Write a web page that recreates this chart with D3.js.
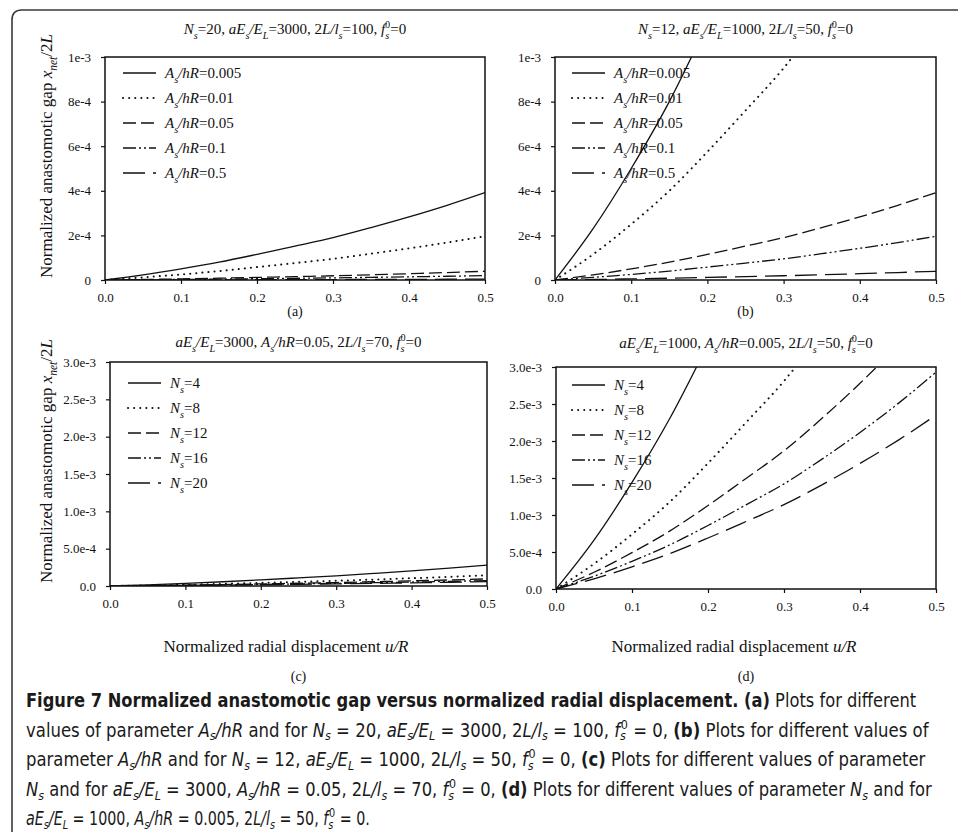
<!DOCTYPE html>
<html>
<head>
<meta charset="utf-8">
<script src="https://cdn.jsdelivr.net/npm/d3@7"></script>
<style>
  body { margin: 0; background: #fff; }
</style>
</head>
<body>
<svg id="fig" width="958" height="832"></svg>
<script>
// u/R values shared by every curve
let uR = [0, 0.05, 0.1, 0.15, 0.2, 0.25, 0.3, 0.35, 0.4, 0.45, 0.5];

// all gap values in units of 1e-3
// (a) Ns=20, aEs/EL=3000, 2L/ls=100
let a_As0005 = [0, 0.023, 0.050, 0.080, 0.115, 0.152, 0.190, 0.235, 0.283, 0.335, 0.392];
let a_As001  = [0, 0.012, 0.025, 0.040, 0.058, 0.076, 0.095, 0.118, 0.142, 0.168, 0.196];
let a_As005  = [0, 0.0023, 0.005, 0.008, 0.0115, 0.0152, 0.019, 0.0235, 0.0283, 0.0335, 0.0392];
let a_As01   = [0, 0.0012, 0.0025, 0.004, 0.0058, 0.0076, 0.0095, 0.0118, 0.0142, 0.0168, 0.0196];
let a_As05   = [0, 0.0002, 0.0005, 0.0008, 0.0012, 0.0015, 0.0019, 0.0024, 0.0028, 0.0034, 0.0039];

// (b) Ns=12, aEs/EL=1000, 2L/ls=50
let b_As0005 = [0, 0.23, 0.50, 0.80, 1.15, 1.52, 1.90, 2.35, 2.83, 3.35, 3.92];
let b_As001  = [0, 0.115, 0.25, 0.40, 0.575, 0.76, 0.95, 1.175, 1.415, 1.675, 1.96];
let b_As005  = [0, 0.023, 0.050, 0.080, 0.115, 0.152, 0.190, 0.235, 0.283, 0.335, 0.392];
let b_As01   = [0, 0.012, 0.025, 0.040, 0.058, 0.076, 0.095, 0.118, 0.142, 0.168, 0.196];
let b_As05   = [0, 0.0023, 0.005, 0.008, 0.0115, 0.0152, 0.019, 0.0235, 0.0283, 0.0335, 0.0392];

// (c) aEs/EL=3000, As/hR=0.05, 2L/ls=70
let c_N4  = [0, 0.016, 0.036, 0.057, 0.082, 0.109, 0.136, 0.168, 0.202, 0.239, 0.280];
let c_N8  = [0, 0.008, 0.018, 0.029, 0.042, 0.056, 0.070, 0.086, 0.104, 0.123, 0.144];
let c_N12 = [0, 0.006, 0.012, 0.019, 0.028, 0.037, 0.046, 0.057, 0.069, 0.081, 0.095];
let c_N16 = [0, 0.004, 0.009, 0.015, 0.021, 0.028, 0.035, 0.044, 0.053, 0.062, 0.073];
let c_N20 = [0, 0.003, 0.007, 0.012, 0.017, 0.022, 0.028, 0.035, 0.042, 0.050, 0.058];

// (d) aEs/EL=1000, As/hR=0.005, 2L/ls=50
let d_N4  = [0, 0.66, 1.44, 2.31, 3.31, 4.38, 5.48, 6.77, 8.16, 9.66, 11.3];
let d_N8  = [0, 0.34, 0.74, 1.18, 1.70, 2.25, 2.81, 3.47, 4.19, 4.96, 5.80];
let d_N12 = [0, 0.226, 0.491, 0.785, 1.128, 1.494, 1.867, 2.306, 2.780, 3.292, 3.85];
let d_N16 = [0, 0.172, 0.374, 0.598, 0.858, 1.137, 1.421, 1.755, 2.115, 2.505, 2.93];
let d_N20 = [0, 0.138, 0.300, 0.479, 0.689, 0.912, 1.140, 1.408, 1.697, 2.009, 2.35];

let asValues = ["0.005", "0.01", "0.05", "0.1", "0.5"];
let nsValues = ["4", "8", "12", "16", "20"];

let xTicks = [0, 0.1, 0.2, 0.3, 0.4, 0.5];
let yTicksTop = [0, 0.2, 0.4, 0.6, 0.8, 1.0];
let yTickLabelsTop = ["0", "2e-4", "4e-4", "6e-4", "8e-4", "1e-3"];
let yTicksBottom = [0, 0.5, 1.0, 1.5, 2.0, 2.5, 3.0];
let yTickLabelsBottom = ["0.0", "5.0e-4", "1.0e-3", "1.5e-3", "2.0e-3", "2.5e-3", "3.0e-3"];

// line styles, one per series
let dashes = [null, "0.1,6", "13,5", "13,3,2,3,2,3", "22,8"];

// rich text snippets: [text, style]
let Ns  = [["N", "i"], ["s", "sub"]];
let AsR = [["A", "i"], ["s", "sub"], ["/hR", "i"]];
let aEL = [["aE", "i"], ["s", "sub"], ["/E", "i"], ["L", "sub"]];
let Lls = [["L/l", "i"], ["s", "sub"]];
let fs0 = [["f", "i"], ["s", "sub"], ["0", "sup0"]];

let titleA = [].concat(Ns, [["=20, "]], aEL, [["=3000, 2"]], Lls, [["=100, "]], fs0, [["=0"]]);
let titleB = [].concat(Ns, [["=12, "]], aEL, [["=1000, 2"]], Lls, [["=50, "]], fs0, [["=0"]]);
let titleC = [].concat(aEL, [["=3000, "]], AsR, [["=0.05, 2"]], Lls, [["=70, "]], fs0, [["=0"]]);
let titleD = [].concat(aEL, [["=1000, "]], AsR, [["=0.005, 2"]], Lls, [["=50, "]], fs0, [["=0"]]);

let panels = [
  { left: 105, right: 485, top: 57, bottom: 280, yTicks: yTicksTop, yLabels: yTickLabelsTop,
    series: [a_As0005, a_As001, a_As005, a_As01, a_As05], keys: asValues, kind: AsR,
    legendX: 123, legendY: 73, title: titleA, titleY: 34, tag: "(a)", tagY: 316, yTitleY: 156 },
  { left: 555, right: 936, top: 57, bottom: 280, yTicks: yTicksTop, yLabels: yTickLabelsTop,
    series: [b_As0005, b_As001, b_As005, b_As01, b_As05], keys: asValues, kind: AsR,
    legendX: 572, legendY: 73, title: titleB, titleY: 34, tag: "(b)", tagY: 316 },
  { left: 110, right: 487, top: 362, bottom: 586, yTicks: yTicksBottom, yLabels: yTickLabelsBottom,
    series: [c_N4, c_N8, c_N12, c_N16, c_N20], keys: nsValues, kind: Ns,
    legendX: 128, legendY: 383, title: titleC, titleY: 347, tag: "(c)", tagY: 681, yTitleY: 461, xTitleX: 286 },
  { left: 556, right: 936, top: 367, bottom: 589, yTicks: yTicksBottom, yLabels: yTickLabelsBottom,
    series: [d_N4, d_N8, d_N12, d_N16, d_N20], keys: nsValues, kind: Ns,
    legendX: 572, legendY: 385, title: titleD, titleY: 348, tag: "(d)", tagY: 681, xTitleX: 734 }
];

const SERIF = '"Liberation Serif", "Times New Roman", Times, serif';
const SANS = '"Liberation Sans Narrow", "DejaVu Sans Condensed", "Liberation Sans", sans-serif';

let svg = d3.select("#fig");

// writes [text, style] parts into a text element as tspans
function rich(sel, parts, size, subDrop) {
  let shift = 0;
  subDrop = subDrop || 0.32;
  parts.forEach(p => {
    let str = p[0], st = p[1] || "";
    let t = sel.append("tspan").text(str);
    let target = 0, dx = 0;
    if (st == "sub") target = size * subDrop;
    if (st == "sup0") { target = -size * 0.42; dx = -size * 0.27; }
    if (target - shift != 0) t.attr("dy", target - shift);
    if (dx) t.attr("dx", dx);
    shift = target;
    if (st == "sub" || st == "sup0") t.style("font-size", (size * 0.68) + "px");
    if (st == "i" || st == "sub") t.style("font-style", "italic");
    if (st == "b") t.style("font-weight", "bold");
  });
  return sel;
}

// outer frame with rounded corner
svg.append("path")
  .attr("d", "M12,840 L12,20 Q12,10 22,10 L965,10")
  .attr("fill", "none")
  .attr("stroke", "#3a3a3a")
  .attr("stroke-width", 1.6);

let line = d3.line().curve(d3.curveMonotoneX);

panels.forEach((p, pi) => {
  let x = d3.scaleLinear().domain([0, 0.5]).range([p.left, p.right]);
  let y = d3.scaleLinear().domain([0, p.yTicks[p.yTicks.length - 1]]).range([p.bottom, p.top]);
  let g = svg.append("g");

  g.append("clipPath").attr("id", "clip" + pi)
    .append("rect")
    .attr("x", p.left).attr("y", p.top)
    .attr("width", p.right - p.left).attr("height", p.bottom - p.top);

  // axes
  let xa = g.append("g")
    .attr("transform", "translate(0," + p.bottom + ")")
    .call(d3.axisBottom(x).tickValues(xTicks).tickFormat(d3.format(".1f")).tickSize(4).tickPadding(9));
  let ya = g.append("g")
    .attr("transform", "translate(" + p.left + ",0)")
    .call(d3.axisLeft(y).tickValues(p.yTicks).tickFormat((d, i) => p.yLabels[i]).tickSize(4).tickPadding(10));
  [xa, ya].forEach(a => {
    a.attr("font-family", SERIF).attr("font-size", 13);
    a.select(".domain").remove();
    a.selectAll("line").attr("stroke", "#111").attr("stroke-width", 1.2);
    a.selectAll("text").attr("fill", "#111").style("font-family", SERIF).style("font-size", "13px");
  });

  // curves
  g.append("g").attr("clip-path", "url(#clip" + pi + ")")
    .selectAll("path")
    .data(p.series)
    .enter()
    .append("path")
    .attr("d", s => line(s.map((v, i) => [x(uR[i]), y(v)])))
    .attr("fill", "none")
    .attr("stroke", "#111")
    .attr("stroke-width", (s, i) => i == 1 ? 2 : 1.3)
    .attr("stroke-linecap", (s, i) => i == 1 ? "round" : "butt")
    .attr("stroke-dasharray", (s, i) => dashes[i]);

  // frame
  g.append("rect")
    .attr("x", p.left).attr("y", p.top)
    .attr("width", p.right - p.left).attr("height", p.bottom - p.top)
    .attr("fill", "none").attr("stroke", "#111").attr("stroke-width", 1.5);

  // legend
  let leg = g.selectAll(".legenditem")
    .data(p.keys)
    .enter()
    .append("g")
    .attr("class", "legenditem")
    .attr("transform", (d, i) => "translate(" + p.legendX + "," + (p.legendY + i * 25) + ")");
  leg.append("line")
    .attr("x1", 0).attr("x2", 33)
    .attr("stroke", "#111")
    .attr("stroke-width", (d, i) => i == 1 ? 2 : 1.3)
    .attr("stroke-linecap", (d, i) => i == 1 ? "round" : "butt")
    .attr("stroke-dasharray", (d, i) => dashes[i]);
  leg.append("text")
    .attr("x", 42).attr("y", 5)
    .attr("fill", "#111")
    .style("font-family", SERIF)
    .style("font-size", "15px")
    .each(function (d) { rich(d3.select(this), p.kind.concat([["=" + d]]), 15); });

  // panel title
  rich(g.append("text")
    .attr("x", (p.left + p.right) / 2).attr("y", p.titleY)
    .attr("text-anchor", "middle")
    .attr("fill", "#111")
    .style("font-family", SERIF)
    .style("font-size", "15px"), p.title, 15);

  // panel tag
  g.append("text")
    .attr("x", (p.left + p.right) / 2).attr("y", p.tagY)
    .attr("text-anchor", "middle")
    .attr("fill", "#111")
    .style("font-family", SERIF)
    .style("font-size", "14px")
    .text(p.tag);

  // y title on the left column
  if (p.yTitleY) {
    rich(g.append("text")
      .attr("transform", "translate(52," + p.yTitleY + ") rotate(-90)")
      .attr("text-anchor", "middle")
      .attr("fill", "#111")
      .style("font-family", SERIF)
      .style("font-size", "17px"),
      [["Normalized anastomotic gap "], ["x", "i"], ["net", "sub"], ["/2"], ["L", "i"]], 17);
  }

  // x title on the bottom row
  if (p.xTitleX) {
    rich(g.append("text")
      .attr("x", p.xTitleX).attr("y", 652)
      .attr("text-anchor", "middle")
      .attr("fill", "#111")
      .style("font-family", SERIF)
      .style("font-size", "17px"),
      [["Normalized radial displacement "], ["u/R", "i"]], 17);
  }
});

// caption
let capLines = [
  [["Figure 7 Normalized anastomotic gap versus normalized radial displacement. ", "b"], ["(a)", "b"], [" Plots for different"]],
  [].concat([["values of parameter "]], AsR, [[" and for "]], Ns, [[" = 20, "]], aEL, [[" = 3000, 2"]], Lls, [[" = 100, "]], fs0,
    [[" = 0, "], ["(b)", "b"], [" Plots for different values of"]]),
  [].concat([["parameter "]], AsR, [[" and for "]], Ns, [[" = 12, "]], aEL, [[" = 1000, 2"]], Lls, [[" = 50, "]], fs0,
    [[" = 0, "], ["(c)", "b"], [" Plots for different values of parameter"]]),
  [].concat(Ns, [[" and for "]], aEL, [[" = 3000, "]], AsR, [[" = 0.05, 2"]], Lls, [[" = 70, "]], fs0,
    [[" = 0, "], ["(d)", "b"], [" Plots for different values of parameter "]], Ns, [[" and for"]]),
  [].concat(aEL, [[" = 1000, "]], AsR, [[" = 0.005, 2"]], Lls, [[" = 50, "]], fs0, [[" = 0."]])
];
let capWidths = [891, 904, 901, 907, 344];

capLines.forEach((parts, i) => {
  let t = svg.append("text")
    .attr("x", 0).attr("y", 0)
    .attr("fill", "#1a1a1a")
    .style("font-family", SANS)
    .style("font-size", "19px");
  rich(t, parts, 19, 0.2);
  let w = t.node().getBBox().width;
  t.attr("transform", "translate(26," + (707 + i * 29.6) + ") scale(" + (capWidths[i] / w) + ",1)");
});
</script>
</body>
</html>
